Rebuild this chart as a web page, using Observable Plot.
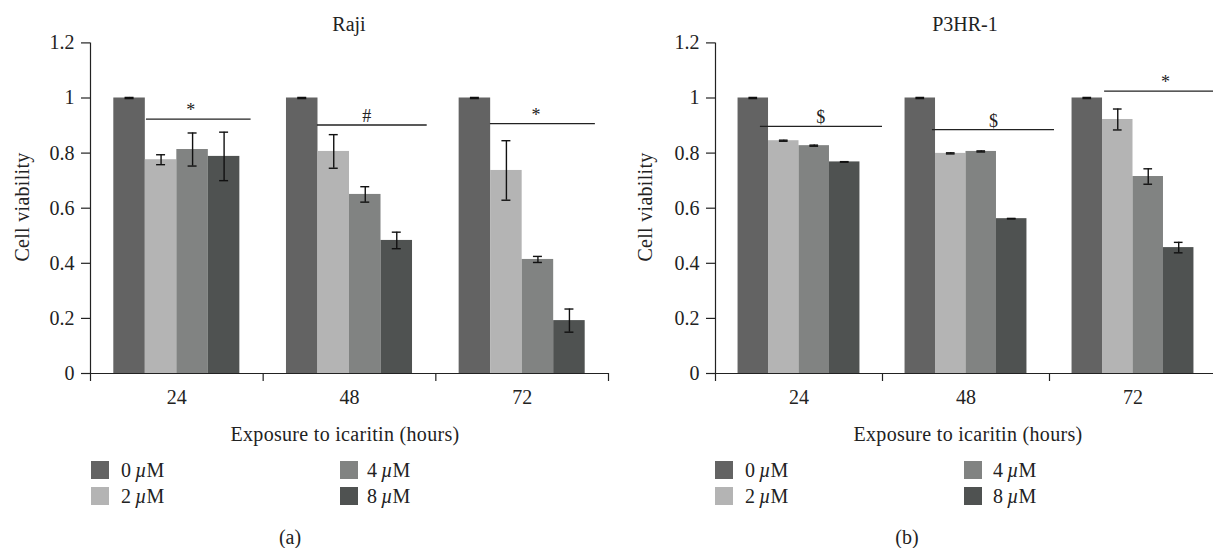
<!DOCTYPE html>
<html>
<head>
<meta charset="utf-8">
<script src="https://cdn.jsdelivr.net/npm/d3@7"></script>
<script src="https://cdn.jsdelivr.net/npm/@observablehq/plot@0.6"></script>
<style>
  html, body { margin: 0; padding: 0; background: #fff; }
  body { width: 1213px; height: 548px; overflow: hidden; position: relative;
         font-family: "Liberation Serif", "DejaVu Serif", serif; color: #222; }
  .abs { position: absolute; white-space: nowrap; }
  .panel { position: absolute; top: 0; }
  .title { font-size: 20px; transform: translate(-50%, -50%); }
  .xlab { font-size: 20px; letter-spacing: 0.3px; transform: translate(-50%, -50%); }
  .ylab { font-size: 20px; letter-spacing: 0.3px; transform: translate(-50%, -50%) rotate(-90deg); }
  .cap { font-size: 20px; transform: translate(-50%, -50%); }
  .sw { position: absolute; width: 18px; height: 18px; }
  .lt { position: absolute; font-size: 20px; transform: translateY(-50%); }
  .lt i { font-style: italic; }
</style>
</head>
<body>
<script>
// ---------- data ----------
const hours = ["24", "48", "72"];
const concentrations = ["0 µM", "2 µM", "4 µM", "8 µM"];
const colors = ["#636363", "#b4b4b4", "#818382", "#4f5251"];

// Raji: mean viability [hour][concentration] and error
const rajiMean = [
  [1.000, 0.776, 0.813, 0.788],
  [1.000, 0.806, 0.650, 0.483],
  [1.000, 0.737, 0.414, 0.192]
];
const rajiErr = [
  [0.002, 0.018, 0.060, 0.088],
  [0.002, 0.061, 0.028, 0.030],
  [0.002, 0.108, 0.011, 0.042]
];
// P3HR-1
const p3Mean = [
  [1.000, 0.845, 0.827, 0.768],
  [1.000, 0.799, 0.806, 0.562],
  [1.000, 0.922, 0.715, 0.457]
];
const p3Err = [
  [0.002, 0.002, 0.002, 0.001],
  [0.002, 0.002, 0.002, 0.001],
  [0.002, 0.038, 0.028, 0.019]
];
// significance annotations: label, y level, start/end and label position (in group units)
const rajiSigLabel = ["*", "#", "*"];
const rajiSigY = [0.923, 0.902, 0.907];
const rajiSigStart = [0.324, 0.314, 0.316];
const rajiSigEnd = [0.930, 0.950, 0.924];
const rajiSigText = [0.58, 0.60, 0.58];

const p3SigLabel = ["$", "$", "*"];
const p3SigY = [0.897, 0.885, 1.025];
const p3SigStart = [0.269, 0.299, 0.33];
const p3SigEnd = [1.000, 1.030, 1.20];
const p3SigText = [0.63, 0.665, 0.695];

const yTicks = [0, 0.2, 0.4, 0.6, 0.8, 1, 1.2];

// ---------- drawing ----------
const barW = 0.1825;
const capW = 0.026;
const FONT = '"Liberation Serif", "DejaVu Serif", serif';

function rows(mean, err) {
  const out = [];
  mean.forEach((r, g) => r.forEach((v, i) => {
    const x1 = g + 0.5 - 2 * barW + i * barW;
    out.push({g, i, c: concentrations[i], v, e: err[g][i], x1, x2: x1 + barW, xc: x1 + barW / 2});
  }));
  return out;
}
function sigRows(label, y, s, e, t) {
  return label.map((l, g) => ({label: l, y: y[g], x1: g + s[g], x2: g + e[g], xt: g + t[g]}));
}

function panel(mean, err, sig, marginLeft) {
  const data = rows(mean, err);
  return Plot.plot({
    width: 620, height: 445,
    marginLeft, marginRight: 620 - marginLeft - (marginLeft === 90 ? 518 : 501),
    marginTop: 42.4, marginBottom: 72,
    style: {fontFamily: FONT, fontSize: "20px", color: "#222", background: "transparent"},
    x: {domain: [0, 3]},
    y: {domain: [0, 1.2]},
    color: {domain: concentrations, range: colors},
    marks: [
      Plot.rectY(data, {x1: "x1", x2: "x2", y: "v", fill: "c"}),
      Plot.ruleX(data, {x: "xc", y1: d => d.v - d.e, y2: d => d.v + d.e, stroke: "#111", strokeWidth: 1.4}),
      Plot.ruleY(data, {y: d => d.v + d.e, x1: d => d.xc - capW, x2: d => d.xc + capW, stroke: "#111", strokeWidth: 1.4}),
      Plot.ruleY(data, {y: d => d.v - d.e, x1: d => d.xc - capW, x2: d => d.xc + capW, stroke: "#111", strokeWidth: 1.4}),
      Plot.ruleY(sig, {y: "y", x1: "x1", x2: "x2", stroke: "#222", strokeWidth: 1.3, clip: false}),
      Plot.text(sig, {x: "xt", y: "y", text: "label", lineAnchor: "bottom", dy: -3, fontSize: 18, fill: "#222"}),
      Plot.ruleX([0], {y1: 0, y2: 1.2, stroke: "#222", strokeWidth: 1.2}),
      Plot.ruleY([0], {x1: 0, x2: 3, stroke: "#222", strokeWidth: 1.2}),
      Plot.axisY({ticks: yTicks, tickSize: 9, tickPadding: 7, stroke: "#222", strokeWidth: 1.2, label: null, tickFormat: d => String(d)}),
      Plot.axisX({ticks: [0, 1, 2, 3], tickSize: 8, tickFormat: () => "", label: null, stroke: "#222", strokeWidth: 1.2}),
      Plot.axisX({ticks: [0.5, 1.5, 2.5], tickSize: 0, tickPadding: 16, tickFormat: d => hours[Math.floor(d)], label: null})
    ]
  });
}

function place(el, left) {
  el.classList.add("panel");
  el.style.left = left + "px";
  el.style.overflow = "visible";
  document.body.appendChild(el);
}
place(panel(rajiMean, rajiErr, sigRows(rajiSigLabel, rajiSigY, rajiSigStart, rajiSigEnd, rajiSigText), 90), 0);
place(panel(p3Mean, p3Err, sigRows(p3SigLabel, p3SigY, p3SigStart, p3SigEnd, p3SigText), 109), 606);

// ---------- text & legends ----------
function addText(cls, txt, x, y) {
  const d = document.createElement("div");
  d.className = "abs " + cls;
  d.style.left = x + "px"; d.style.top = y + "px";
  d.textContent = txt;
  document.body.appendChild(d);
}
addText("title", "Raji", 349, 24);
addText("title", "P3HR-1", 965, 24);
addText("ylab", "Cell viability", 22, 207);
addText("ylab", "Cell viability", 645, 207);
addText("xlab", "Exposure to icaritin (hours)", 345, 434);
addText("xlab", "Exposure to icaritin (hours)", 968, 434);
addText("cap", "(a)", 290, 537);
addText("cap", "(b)", 907, 537);

function legend(colX, textX) {
  const pos = [[0, 0], [0, 1], [1, 0], [1, 1]]; // [column,row] for 0,2,4,8 µM
  concentrations.forEach((c, i) => {
    const [col, row] = pos[i];
    const top = 461 + row * 25.5;
    const sw = document.createElement("div");
    sw.className = "sw";
    sw.style.left = colX[col] + "px"; sw.style.top = top + "px";
    sw.style.background = colors[i];
    document.body.appendChild(sw);
    const t = document.createElement("div");
    t.className = "lt";
    t.style.left = textX[col] + "px"; t.style.top = (top + 9) + "px";
    const [num] = c.split(" ");
    t.innerHTML = num + "\u2009<i>µ</i>M";
    document.body.appendChild(t);
  });
}
legend([91, 340], [121, 367]);
legend([715, 964], [745, 993]);
</script>
</body>
</html>
